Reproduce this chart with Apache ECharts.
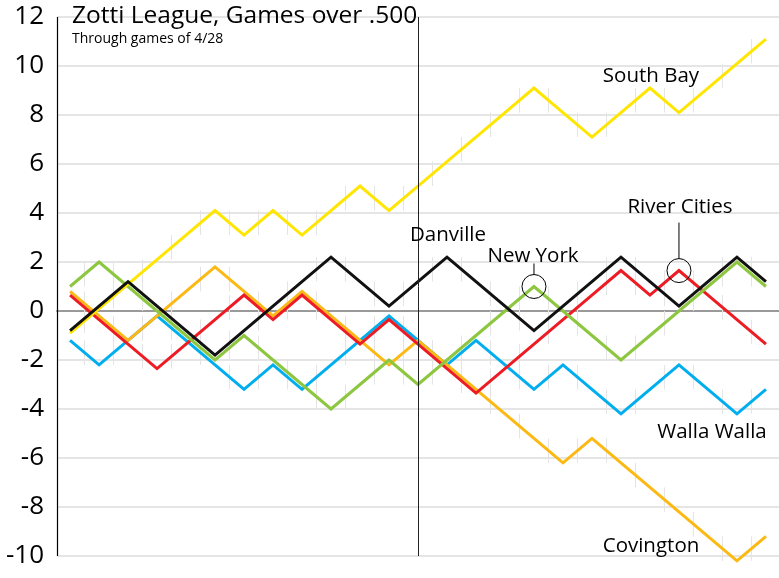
<!DOCTYPE html>
<html><head><meta charset="utf-8">
<script src="https://cdn.jsdelivr.net/npm/echarts@6/dist/echarts.min.js"></script>
<style>html,body{margin:0;padding:0;background:#fff}#c{width:779px;height:578px}</style>
</head><body><div id="c"></div>
<script>
const games = Array.from({length: 25}, (_, i) => i);
const yTicks = [-10, -8, -6, -4, -2, 0, 2, 4, 6, 8, 10, 12];
const southBay = [-0.9,0.1,1.1,2.1,3.1,4.1,3.1,4.1,3.1,4.1,5.1,4.1,5.1,6.1,7.1,8.1,9.1,8.1,7.1,8.1,9.1,8.1,9.1,10.1,11.1];
const danville = [-0.8,0.2,1.2,0.2,-0.8,-1.8,-0.8,0.2,1.2,2.2,1.2,0.2,1.2,2.2,1.2,0.2,-0.8,0.2,1.2,2.2,1.2,0.2,1.2,2.2,1.2];
const newYork = [1,2,1,0,-1,-2,-1,-2,-3,-4,-3,-2,-3,-2,-1,0,1,0,-1,-2,-1,0,1,2,1];
const riverCities = [0.65,-0.35,-1.35,-2.35,-1.35,-0.35,0.65,-0.35,0.65,-0.35,-1.35,-0.35,-1.35,-2.35,-3.35,-2.35,-1.35,-0.35,0.65,1.65,0.65,1.65,0.65,-0.35,-1.35];
const covington = [0.8,-0.2,-1.2,-0.2,0.8,1.8,0.8,-0.2,0.8,-0.2,-1.2,-2.2,-1.2,-2.2,-3.2,-4.2,-5.2,-6.2,-5.2,-6.2,-7.2,-8.2,-9.2,-10.2,-9.2];
const wallaWalla = [-1.2,-2.2,-1.2,-0.2,-1.2,-2.2,-3.2,-2.2,-3.2,-2.2,-1.2,-0.2,-1.2,-2.2,-1.2,-2.2,-3.2,-2.2,-3.2,-4.2,-3.2,-2.2,-3.2,-4.2,-3.2];
const splitGame = 12;
const xMin = -0.45, xMax = 24.45;

const teams = [
  {name: 'Walla Walla', data: wallaWalla, color: '#00AEEF'},
  {name: 'Covington', data: covington, color: '#FDB913'},
  {name: 'River Cities', data: riverCities, color: '#ED1C24'},
  {name: 'New York', data: newYork, color: '#8DC63F'},
  {name: 'South Bay', data: southBay, color: '#FFE600'},
  {name: 'Danville', data: danville, color: '#111111'}
];
const FONT = 'Open Sans';

// faint step marks between games
const stepMarks = [];
teams.forEach(t => {
  for (let i = 0; i < t.data.length - 1; i++) {
    stepMarks.push([i + 0.5, t.data[i], t.data[i + 1]]);
  }
});

const series = [{
  type: 'custom', silent: true, z: 1,
  data: stepMarks,
  renderItem: function (params, api) {
    const a = api.coord([api.value(0), api.value(1)]);
    const b = api.coord([api.value(0), api.value(2)]);
    return {type: 'line', shape: {x1: a[0], y1: a[1], x2: b[0], y2: b[1]},
      style: {stroke: '#e4e4e4', lineWidth: 1}};
  }
}, {
  type: 'line', data: [], silent: true, z: 5,
  markLine: {symbol: 'none', silent: true, label: {show: false},
    lineStyle: {color: '#222', width: 1, type: 'solid'},
    data: [{xAxis: splitGame}]}
}];
teams.forEach(t => {
  const s = {
    type: 'line', name: t.name, z: 3, clip: false,
    data: games.map(i => [i, t.data[i]]),
    showSymbol: false, symbol: 'none',
    lineStyle: {color: t.color, width: 3, join: 'miter'},
    itemStyle: {color: t.color}
  };
  if (t.name === 'New York') {
    s.markPoint = {symbol: 'circle', symbolSize: 24, label: {show: false},
      itemStyle: {color: 'rgba(0,0,0,0)', borderColor: '#000', borderWidth: 1},
      data: [{coord: [16, newYork[16]]}]};
  }
  if (t.name === 'River Cities') {
    s.markPoint = {symbol: 'circle', symbolSize: 24, label: {show: false},
      itemStyle: {color: 'rgba(0,0,0,0)', borderColor: '#000', borderWidth: 1},
      data: [{coord: [21, riverCities[21]]}]};
  }
  series.push(s);
});

const chart = echarts.init(document.getElementById('c'));
chart.setOption({
  animation: false,
  backgroundColor: '#fff',
  title: {
    text: 'Zotti League, Games over .500',
    subtext: 'Through games of 4/28',
    left: 67, top: -1, itemGap: 3,
    textStyle: {fontFamily: FONT, fontSize: 24.5, fontWeight: 'normal', color: '#000'},
    subtextStyle: {fontFamily: FONT, fontSize: 14, color: '#000'}
  },
  grid: {left: 57, right: 0, top: 17, bottom: 22},
  xAxis: {
    type: 'value', min: xMin, max: xMax,
    axisLine: {onZero: true, lineStyle: {color: '#9a9a9a', width: 2}},
    axisTick: {show: false}, axisLabel: {show: false}, splitLine: {show: false}
  },
  yAxis: {
    type: 'value', min: yTicks[0], max: yTicks[yTicks.length - 1], interval: 2,
    axisLine: {show: false},
    axisTick: {show: false},
    axisLabel: {fontFamily: FONT, fontSize: 26, color: '#000', margin: 13},
    splitLine: {lineStyle: {color: '#dddddd', width: 1.5}}
  },
  series: series
});

// text labels, left axis rule and connector lines
function px(x, y) { return chart.convertToPixel({gridIndex: 0}, [x, y]); }
const ny = px(16, newYork[16]);
const rc = px(21, riverCities[21]);
const axTop = px(xMin, yTicks[yTicks.length - 1]);
const axBot = px(xMin, yTicks[0]);
const lbl = (text, x, y) => ({type: 'text', x: x, y: y, z: 10,
  style: {text: text, fontFamily: FONT, fontSize: 20.5, fill: '#000', textAlign: 'center', textVerticalAlign: 'middle'}});
chart.setOption({graphic: [
  {type: 'line', z: 10, shape: {x1: Math.round(axTop[0]) + 0.5, y1: axTop[1], x2: Math.round(axBot[0]) + 0.5, y2: axBot[1]}, style: {stroke: '#000', lineWidth: 1.2}},
  lbl('South Bay', 651, 76),
  lbl('Danville', 448, 235),
  lbl('New York', 533, 256),
  lbl('River Cities', 680, 207),
  lbl('Walla Walla', 712, 432),
  lbl('Covington', 651, 546),
  {type: 'line', z: 10, shape: {x1: ny[0], y1: ny[1] - 12, x2: ny[0], y2: ny[1] - 23}, style: {stroke: '#000', lineWidth: 1}},
  {type: 'line', z: 10, shape: {x1: rc[0], y1: rc[1] - 12, x2: rc[0], y2: rc[1] - 48}, style: {stroke: '#000', lineWidth: 1}}
]});
</script></body></html>
